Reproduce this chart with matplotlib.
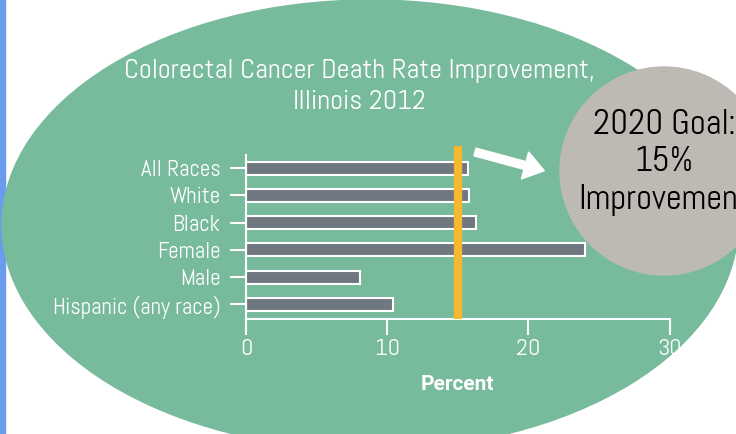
import matplotlib
matplotlib.use("Agg")
import matplotlib.pyplot as plt
import numpy as np
from matplotlib import font_manager
from matplotlib.patches import Ellipse, FancyArrow, Rectangle
from matplotlib.transforms import IdentityTransform

# ---- data ----
categories = ["All Races", "White", "Black", "Female", "Male", "Hispanic (any race)"]
values = [15.7, 15.8, 16.3, 24.0, 8.1, 10.4]
goal = 15
xticks = [0, 10, 20, 30]
title = "Colorectal Cancer Death Rate Improvement,\nIllinois 2012"
xlabel = "Percent"
goal_text = "2020 Goal:\n15%\nImprovement"

# ---- fonts ----
entries = font_manager.fontManager.ttflist
names = {f.name for f in entries}
family = None
stretch = "normal"
for cand in ["Abel", "Roboto Condensed", "Liberation Sans Narrow", "Open Sans Condensed",
             "Noto Sans Condensed", "Arial Narrow"]:
    if cand in names:
        family = cand
        break
if family is None:
    if any(f.name == "DejaVu Sans" and f.stretch == "condensed" for f in entries):
        family, stretch = "DejaVu Sans", "condensed"
    else:
        family = "Roboto"
plt.rcParams["font.family"] = [family, "DejaVu Sans"]
plt.rcParams["font.stretch"] = stretch

# bold face for the axis label: condensed bold if present, else Roboto bold
has_bold_cond = any(f.name == family and (f.weight == 700 or f.weight == "bold") for f in entries)
label_family = [family, "DejaVu Sans"] if has_bold_cond else ["Roboto", "DejaVu Sans"]
label_size = 16.5 if has_bold_cond else 15

W, H = 736, 434
fig = plt.figure(figsize=(W / 100, H / 100), dpi=100)
fig.patch.set_facecolor("white")

green = "#77BA9C"
grey_bar = "#6F7780"
gold = "#F5B82E"
circle_col = "#BDBAB4"

# background shapes (figure fraction coordinates)
fig.patches.append(Rectangle((0, 0), 5 / W, 1, transform=fig.transFigure,
                             color="#6A9BEE", zorder=-3))
fig.patches.append(Ellipse((370 / W, 1 - 225 / H), 736 / W, 450 / H,
                           transform=fig.transFigure, color=green, zorder=-2))
fig.patches.append(Ellipse((664 / W, 1 - 171 / H), 208 / W, 208 / H,
                           transform=fig.transFigure, color=circle_col, zorder=-1))

# axes
ax = fig.add_axes([246 / W, 1 - 319 / H, (669.5 - 246) / W, (319 - 155) / H])
ax.patch.set_visible(False)
ypos = np.arange(len(categories))[::-1]
ax.barh(ypos, values, height=0.48, color=grey_bar, edgecolor="white", linewidth=1.5, zorder=2)
ax.plot([goal, goal], [-0.54, 5.81], color=gold, lw=6, solid_capstyle="butt",
        clip_on=False, zorder=3)
ax.set_xlim(0, 30)
ax.set_ylim(-0.54, 5.48)
ax.set_yticks(ypos)
ax.set_yticklabels(categories, fontsize=16.5)
ax.set_xticks(xticks)
ax.set_xticklabels([str(t) for t in xticks], fontsize=17.5)
for s in ["top", "right"]:
    ax.spines[s].set_visible(False)
for s in ["left", "bottom"]:
    ax.spines[s].set_color("white")
    ax.spines[s].set_linewidth(1.5)
ax.tick_params(axis="both", colors="white", width=1.5, length=11.5)
ax.tick_params(axis="y", pad=7)
ax.tick_params(axis="x", pad=3)
ax.set_xlabel(xlabel, color="white", fontsize=label_size, fontweight="bold",
              family=label_family, labelpad=11)

# title
fig.text(359 / W, 1 - 86.5 / H, title, ha="center", va="center", color="white",
         fontsize=20.3, linespacing=1.33)

# goal callout
fig.text(664 / W, 1 - 162 / H, goal_text, ha="center", va="center", color="black",
         fontsize=25, linespacing=1.22)

# arrow (display pixels)
fig.patches.append(FancyArrow(475, H - 152, 50, -13.5, width=8, head_width=28,
                              head_length=20, color="white",
                              transform=IdentityTransform(), zorder=4))

fig.savefig("out.png", dpi=100, facecolor="white")
